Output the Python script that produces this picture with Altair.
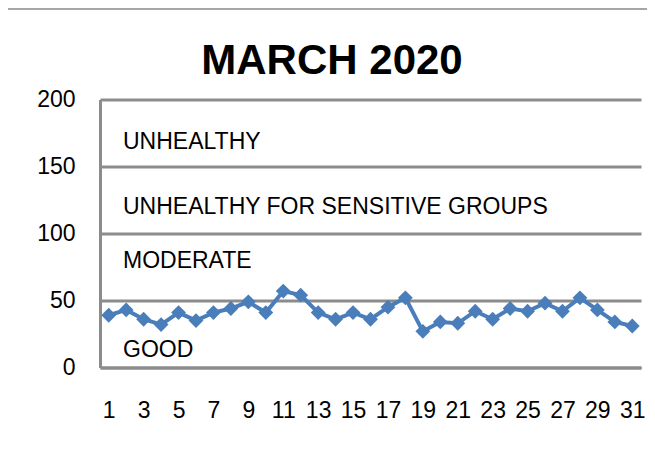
import altair as alt
import pandas as pd

days = list(range(1, 32))
aqi = [39, 43, 36, 32, 41, 35, 41, 44, 49, 41, 57, 54, 41, 36, 41, 36,
       45, 52, 27, 34, 33, 42, 36, 44, 42, 48, 42, 52, 43, 34, 31]
x_tick_labels = list(range(1, 32, 2))
y_ticks = [0, 50, 100, 150, 200]
band_labels = ["UNHEALTHY", "UNHEALTHY FOR SENSITIVE GROUPS", "MODERATE", "GOOD"]
band_label_y = [163, 114.5, 74.5, 7.5]
chart_title = ["MARCH 2020"]

df = pd.DataFrame({"day": days, "aqi": aqi})
lab = pd.DataFrame({"label": band_labels, "y": band_label_y})
ttl = pd.DataFrame({"t": chart_title})

FONT = "Liberation Sans"
BLUE = "#4a7ebb"
GRAY = "#8c8c8c"

x_enc = alt.X("day:O", title=None,
              scale=alt.Scale(type="point", padding=0.5),
              axis=alt.Axis(values=x_tick_labels, labelAngle=0, labelPadding=32,
                            grid=False, ticks=False, domainColor=GRAY, domainWidth=3))
y_enc = alt.Y("aqi:Q", title=None,
              scale=alt.Scale(domain=[0, 200], nice=False, zero=True),
              axis=alt.Axis(values=y_ticks, grid=True, gridColor=GRAY, gridWidth=3,
                            ticks=False, labelPadding=25, domainColor=GRAY, domainWidth=3))

line = alt.Chart(df).mark_line(color=BLUE, strokeWidth=4).encode(x=x_enc, y=y_enc)
pts = alt.Chart(df).mark_point(shape="diamond", filled=True, size=220, color=BLUE,
                               opacity=1).encode(x="day:O", y="aqi:Q")

texts = alt.Chart(lab).mark_text(align="left", baseline="alphabetic", font=FONT,
                                 fontSize=23, color="black").encode(
    x=alt.value(23), y=alt.Y("y:Q"), text="label:N")

title_mark = alt.Chart(ttl).mark_text(align="center", baseline="alphabetic", font=FONT,
                                      fontSize=42, fontWeight="bold", color="black").encode(
    x=alt.value(232), y=alt.value(-25.5), text="t:N")

top_line = alt.Chart(df).mark_rule(color="#a6a6a6", strokeWidth=1.5).encode(
    x=alt.value(-92), x2=alt.value(547), y=alt.value(-90.5))

chart = alt.layer(top_line, line, pts, texts, title_mark).properties(
    width=541, height=268,
    autosize=alt.AutoSizeParams(type="none"),
    padding={"left": 92, "top": 91.5, "right": 6, "bottom": 80},
    background="white",
).configure_view(stroke=None).configure_axis(
    labelFont=FONT, labelFontSize=23, labelColor="black"
)

chart.save("out.html", embed_options={"renderer": "svg", "actions": False})
